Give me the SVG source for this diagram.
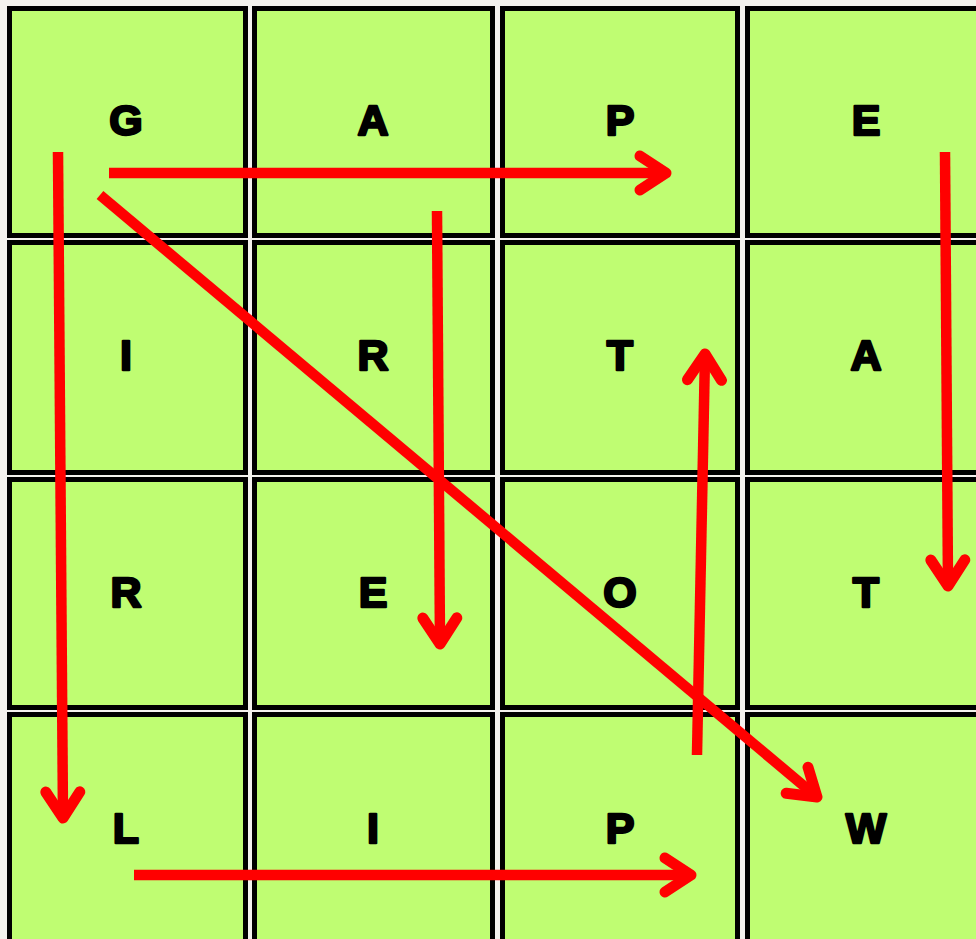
<svg xmlns="http://www.w3.org/2000/svg" width="976" height="939" viewBox="0 0 976 939">
<style>
.cell{fill:#bffd72;stroke:#000;stroke-width:5}
.lt{font-family:"Liberation Sans",Arial,sans-serif;font-weight:bold;font-size:43px;fill:#000;stroke:#000;stroke-width:2.4;stroke-linejoin:round;text-anchor:middle}
.ar{stroke:#ff0000;stroke-width:10.5;fill:none;marker-end:url(#head)}
</style>
<defs>
<marker id="head" markerUnits="userSpaceOnUse" viewBox="-40 -30 50 60" markerWidth="50" markerHeight="60" refX="0" refY="0" orient="auto">
<path d="M-26,-17 L0,0 L-26,17" fill="none" stroke="#ff0000" stroke-width="11" stroke-linecap="round" stroke-linejoin="round"/>
</marker>
</defs>
<rect width="976" height="939" fill="#f4f2ee"/>
<g id="cell-r1c1"><rect class="cell" x="9.5" y="8.5" width="236" height="227"/><text class="lt" x="126" y="135">G</text></g>
<g id="cell-r1c2"><rect class="cell" x="254.5" y="8.5" width="238" height="227"/><text class="lt" x="373" y="135">A</text></g>
<g id="cell-r1c3"><rect class="cell" x="502.5" y="8.5" width="235" height="227"/><text class="lt" x="620" y="135">P</text></g>
<g id="cell-r1c4"><rect class="cell" x="747.5" y="8.5" width="250" height="227"/><text class="lt" x="866" y="135">E</text></g>
<g id="cell-r2c1"><rect class="cell" x="9.5" y="242.5" width="236" height="230"/><text class="lt" x="126" y="370">I</text></g>
<g id="cell-r2c2"><rect class="cell" x="254.5" y="242.5" width="238" height="230"/><text class="lt" x="373" y="370">R</text></g>
<g id="cell-r2c3"><rect class="cell" x="502.5" y="242.5" width="235" height="230"/><text class="lt" x="620" y="370">T</text></g>
<g id="cell-r2c4"><rect class="cell" x="747.5" y="242.5" width="250" height="230"/><text class="lt" x="866" y="370">A</text></g>
<g id="cell-r3c1"><rect class="cell" x="9.5" y="479.5" width="236" height="228"/><text class="lt" x="126" y="607">R</text></g>
<g id="cell-r3c2"><rect class="cell" x="254.5" y="479.5" width="238" height="228"/><text class="lt" x="373" y="607">E</text></g>
<g id="cell-r3c3"><rect class="cell" x="502.5" y="479.5" width="235" height="228"/><text class="lt" x="620" y="607">O</text></g>
<g id="cell-r3c4"><rect class="cell" x="747.5" y="479.5" width="250" height="228"/><text class="lt" x="866" y="607">T</text></g>
<g id="cell-r4c1"><rect class="cell" x="9.5" y="714.5" width="236" height="240"/><text class="lt" x="126" y="843">L</text></g>
<g id="cell-r4c2"><rect class="cell" x="254.5" y="714.5" width="238" height="240"/><text class="lt" x="373" y="843">I</text></g>
<g id="cell-r4c3"><rect class="cell" x="502.5" y="714.5" width="235" height="240"/><text class="lt" x="620" y="843">P</text></g>
<g id="cell-r4c4"><rect class="cell" x="747.5" y="714.5" width="250" height="240"/><text class="lt" x="866" y="843">W</text></g>
<g id="connectors">
<line class="ar" x1="58" y1="152" x2="63" y2="818"/>
<line class="ar" x1="109" y1="173" x2="666" y2="173"/>
<line class="ar" x1="100" y1="195" x2="817" y2="797"/>
<line class="ar" x1="437" y1="211" x2="440" y2="644"/>
<line class="ar" x1="697" y1="755" x2="705" y2="354"/>
<line class="ar" x1="945" y1="152" x2="948" y2="586"/>
<line class="ar" x1="134" y1="875" x2="691" y2="875"/>
</g>
</svg>
